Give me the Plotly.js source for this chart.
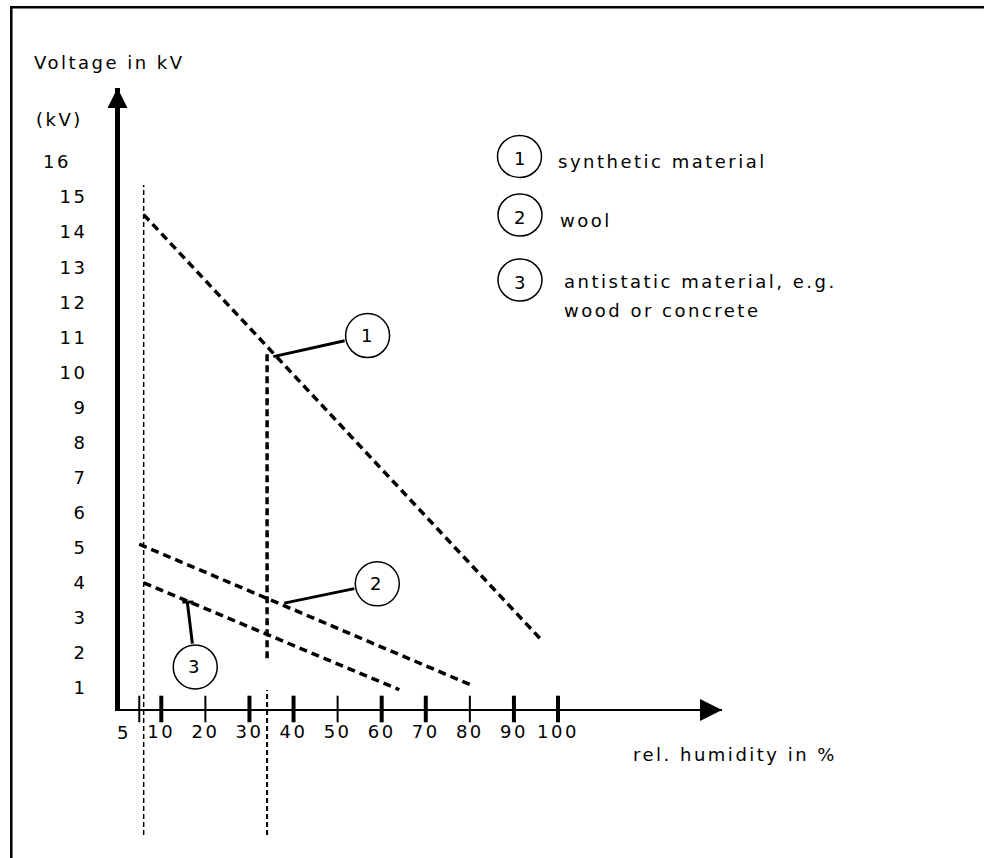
<!DOCTYPE html>
<html>
<head>
<meta charset="utf-8">
<script src="https://cdn.plot.ly/plotly-3.0.1.min.js"></script>
<style>
html, body { margin: 0; padding: 0; background: #ffffff; }
#chart { width: 984px; height: 858px; }
text { letter-spacing: 2.5px; }
</style>
</head>
<body>
<div id="chart"></div>
<script>
// ---------- data ----------
const humidityTicks = [5, 10, 20, 30, 40, 50, 60, 70, 80, 90, 100];
const humidityTickText = ['5', '10', '20', '30', '40', '50', '60', '70', '80', '90', '100'];
const voltageTicks = [1, 2, 3, 4, 5, 6, 7, 8, 9, 10, 11, 12, 13, 14, 15, 16];
const voltageTickText = ['1', '2', '3', '4', '5', '6', '7', '8', '9', '10', '11', '12', '13', '14', '15', '16\u00a0\u00a0'];

const materialNames = ['synthetic material', 'wool', 'antistatic material, e.g.', 'wood or concrete'];
const materialNumbers = ['1', '2', '3'];

const synthHumidity = [6, 96];
const synthVoltage = [14.5, 2.4];
const woolHumidity = [5, 80];
const woolVoltage = [5.1, 1.1];
const antiHumidity = [6, 64];
const antiVoltage = [4.0, 0.95];

const refHumidity = [6, 34];          // vertical guide lines (rel. humidity %)
const refVoltageSpan = [1.85, 10.6];  // heavy part of the 34 % guide

// circled labels on the plot and where their leaders touch the lines
const labelHumidity = [56.8, 59.0, 17.7];
const labelVoltage = [11.05, 3.97, 1.6];
const touchHumidity = [35.4, 37.9, 15.9];
const touchVoltage = [10.45, 3.42, 3.45];

// ---------- layout helpers ----------
const L = 120, T = 88, W = 602, H = 621;
const px = p => (p - L) / W;
const py = p => (T + H - p) / H;
const FONT = { family: 'DejaVu Sans, Verdana, sans-serif', size: 18, color: '#000' };
const xRange = [0.63, 137.2];
const yRange = [0.401, 18.11];
const tickWeight = [2, 4, 2, 4, 4, 2, 4, 4, 2, 4, 4];

const dashLine = { color: '#000', width: 3.5, dash: '8px,5px' };

const traces = [
  { x: synthHumidity, y: synthVoltage, mode: 'lines', line: dashLine, hoverinfo: 'skip', name: materialNames[0] },
  { x: woolHumidity, y: woolVoltage, mode: 'lines', line: dashLine, hoverinfo: 'skip', name: materialNames[1] },
  { x: antiHumidity, y: antiVoltage, mode: 'lines', line: dashLine, hoverinfo: 'skip', name: materialNames[2] },
  { // crossing tick marks on the humidity axis
    x: humidityTicks, y: humidityTicks.map(() => yRange[0]), mode: 'markers', cliponaxis: false,
    hoverinfo: 'skip',
    marker: { symbol: 'line-ns', size: 19, color: '#000', line: { color: '#000', width: tickWeight } }
  }
];

const shapes = [
  // frame (top and left)
  { type: 'line', xref: 'paper', yref: 'paper', x0: px(10), x1: px(984), y0: py(7.3), y1: py(7.3), line: { color: '#000', width: 2.5 } },
  { type: 'line', xref: 'paper', yref: 'paper', x0: px(11.3), x1: px(11.3), y0: py(6), y1: py(858), line: { color: '#000', width: 2.5 } },
  // guide lines
  { type: 'line', xref: 'x', yref: 'paper', x0: refHumidity[0], x1: refHumidity[0], y0: py(835), y1: py(185), line: { color: '#000', width: 1.5, dash: '5px,3px' } },
  { type: 'line', xref: 'x', yref: 'y', x0: refHumidity[1], x1: refHumidity[1], y0: refVoltageSpan[0], y1: refVoltageSpan[1], line: { color: '#000', width: 3.5, dash: '7px,4px' } },
  { type: 'line', xref: 'x', yref: 'paper', x0: refHumidity[1], x1: refHumidity[1], y0: py(835), y1: py(690), line: { color: '#000', width: 2, dash: '5px,3px' } }
];

const annotations = [
  { xref: 'paper', yref: 'paper', x: px(32), y: py(62), xanchor: 'left', yanchor: 'middle', text: 'Voltage in kV', showarrow: false, font: FONT },
  { xref: 'paper', yref: 'paper', x: px(59.5), y: py(119), xanchor: 'center', yanchor: 'middle', text: '(kV)', showarrow: false, font: FONT },
  { xref: 'paper', yref: 'paper', x: px(631), y: py(755), xanchor: 'left', yanchor: 'middle', text: 'rel. humidity in %', showarrow: false, font: FONT },
  // first humidity tick label sits left of its tick, next to the vertical axis
  { xref: 'x', yref: 'paper', x: humidityTicks[0], y: py(732), xshift: -15, xanchor: 'center', yanchor: 'middle',
    text: humidityTickText[0], showarrow: false, font: FONT },
  // axis arrow heads
  { xref: 'paper', yref: 'paper', x: px(117.5), y: py(88), ax: 0, ay: 40, text: '', showarrow: true, arrowhead: 2, arrowsize: 0.8, arrowwidth: 5, arrowcolor: '#000' },
  { xref: 'paper', yref: 'paper', x: px(722), y: py(710), ax: -40, ay: 0, text: '', showarrow: true, arrowhead: 2, arrowsize: 2.2, arrowwidth: 2, arrowcolor: '#000' }
];

// legend block (circled numbers + names)
const legendCenters = [[519.5, 156.5], [520, 215], [520, 280]];
const legendTextPos = [[556, 161], [558, 221], [562, 281], [562, 310]];
legendCenters.forEach((c, i) => {
  shapes.push({ type: 'circle', xref: 'paper', yref: 'paper', xsizemode: 'pixel', ysizemode: 'pixel',
    xanchor: px(c[0]), yanchor: py(c[1]), x0: -22, x1: 22, y0: -21, y1: 21, line: { color: '#000', width: 1.5 } });
  annotations.push({ xref: 'paper', yref: 'paper', x: px(c[0] + 1), y: py(c[1] + 2), xanchor: 'center', yanchor: 'middle',
    text: materialNumbers[i], showarrow: false, font: FONT });
});
materialNames.forEach((n, i) => {
  annotations.push({ xref: 'paper', yref: 'paper', x: px(legendTextPos[i][0]), y: py(legendTextPos[i][1]), xanchor: 'left', yanchor: 'middle', text: n, showarrow: false, font: FONT });
});

// circled labels on the lines with leaders
labelHumidity.forEach((hx, i) => {
  shapes.push({ type: 'circle', xref: 'x', yref: 'y', xsizemode: 'pixel', ysizemode: 'pixel',
    xanchor: hx, yanchor: labelVoltage[i], x0: -22, x1: 22, y0: -22, y1: 22, line: { color: '#000', width: 1.5 } });
  annotations.push({ xref: 'x', yref: 'y', axref: 'x', ayref: 'y', x: touchHumidity[i], y: touchVoltage[i], ax: hx, ay: labelVoltage[i],
    text: '', showarrow: true, arrowhead: 0, arrowwidth: 3, arrowcolor: '#000', standoff: 0, startstandoff: 22 });
  annotations.push({ xref: 'x', yref: 'y', x: hx, y: labelVoltage[i], xanchor: 'center', yanchor: 'middle',
    text: materialNumbers[i], showarrow: false, font: FONT });
});
// small cross bar where leader 3 meets its line
shapes.push({ type: 'line', xref: 'x', yref: 'y', xsizemode: 'pixel', ysizemode: 'pixel',
  xanchor: touchHumidity[2], yanchor: touchVoltage[2], x0: -5, x1: 6, y0: 0, y1: 0, line: { color: '#000', width: 3 } });

const layout = {
  width: 984, height: 858,
  margin: { l: L, r: 984 - L - W, t: T, b: 858 - T - H, pad: 0 },
  paper_bgcolor: '#fff', plot_bgcolor: '#fff',
  showlegend: false,
  font: FONT,
  xaxis: {
    range: xRange, showgrid: false, zeroline: false, showline: true, linewidth: 2, linecolor: '#000',
    ticks: '', tickmode: 'array', tickvals: humidityTicks,
    ticktext: humidityTickText.map((t, i) => (i === 0 ? '' : t)), tickfont: FONT,
    tickangle: 0, ticklabelstandoff: 5, fixedrange: true
  },
  yaxis: {
    range: yRange, showgrid: false, zeroline: false, showline: true, linewidth: 5, linecolor: '#000',
    ticks: '', tickmode: 'array', tickvals: voltageTicks, ticktext: voltageTickText, tickfont: FONT,
    ticklabelstandoff: 24, fixedrange: true
  },
  shapes: shapes,
  annotations: annotations
};

Plotly.newPlot('chart', traces, layout, { displayModeBar: false, staticPlot: true });
</script>
</body>
</html>
